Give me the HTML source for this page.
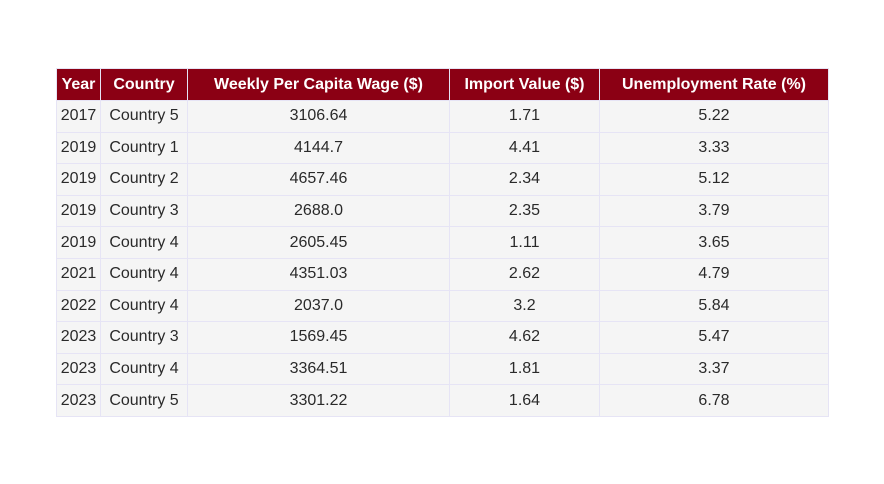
<!DOCTYPE html>
<html><head><meta charset="utf-8"><style>
body{margin:0;width:884px;height:484px;background:#fff;font-family:"Liberation Sans",Arial,sans-serif;overflow:hidden}
#t{position:absolute;left:0;top:0}
.c{position:absolute;box-sizing:border-box;border:1px solid #e6e4f5;display:flex;align-items:center;justify-content:center;font-size:16px;color:#2a2a2a;background:#f5f5f5;white-space:nowrap}
.h{background:#8b0014;color:#fff;font-weight:bold}
</style></head><body>
<div id="t"></div>
<script>
const headers=["Year","Country","Weekly Per Capita Wage ($)","Import Value ($)","Unemployment Rate (%)"];
const years=["2017","2019","2019","2019","2019","2021","2022","2023","2023","2023"];
const countries=["Country 5","Country 1","Country 2","Country 3","Country 4","Country 4","Country 4","Country 3","Country 4","Country 5"];
const wages=["3106.64","4144.7","4657.46","2688.0","2605.45","4351.03","2037.0","1569.45","3364.51","3301.22"];
const imports=["1.71","4.41","2.34","2.35","1.11","2.62","3.2","4.62","1.81","1.64"];
const unemp=["5.22","3.33","5.12","3.79","3.65","4.79","5.84","5.47","3.37","6.78"];
const colX=[56,100,187,449,599,828];
const top0=68,hh=32,rh=31.6;
const t=document.getElementById('t');
function cell(x0,x1,y,h,txt,cls,name){
  const d=document.createElement('div');
  d.className='c '+cls;
  d.style.left=x0+'px';d.style.top=y+'px';d.style.width=(x1-x0+1)+'px';d.style.height=(h+1)+'px';
  d.textContent=txt;
  
  
  t.appendChild(d);
}
headers.forEach((h,i)=>cell(colX[i],colX[i+1],top0,hh,h,'h','header-cell'));
const cols=[years,countries,wages,imports,unemp];
for(let r=0;r<years.length;r++){
  const y=top0+hh+r*rh;
  cols.forEach((c,i)=>cell(colX[i],colX[i+1],y,rh,c[r],'','table-cell'));
}
</script>
</body></html>
